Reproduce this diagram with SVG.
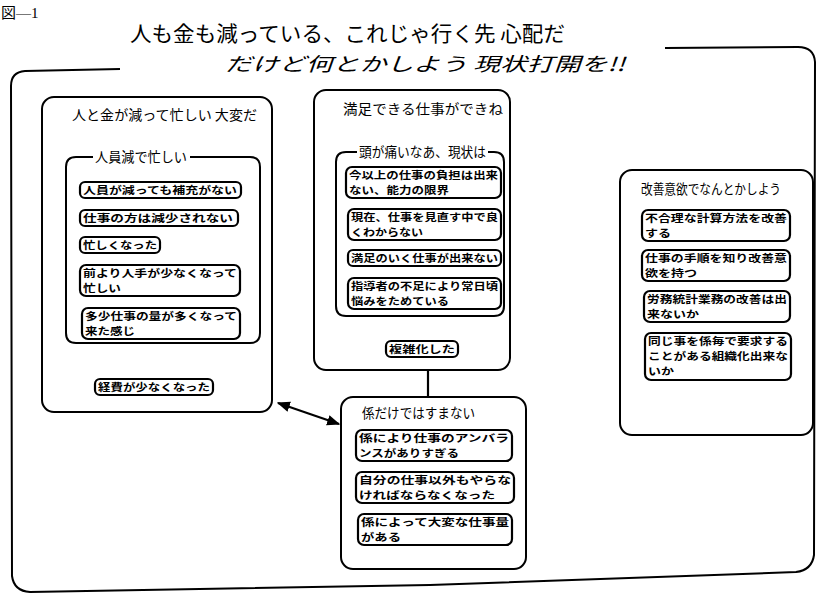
<svg xmlns="http://www.w3.org/2000/svg" width="827" height="604" viewBox="0 0 827 604">
<style>
.frame{fill:none;stroke:#000;stroke-width:2;stroke-linejoin:round}
.grp{fill:#fff;stroke:#000;stroke-width:2}
.card{fill:#fff;stroke:#000;stroke-width:2.2}
.ct{font-family:"Noto Sans CJK JP","Noto Sans CJK SC",sans-serif;font-size:10px;font-weight:bold;fill:#000}
.gt{font-family:"Noto Sans CJK JP","Noto Sans CJK SC",sans-serif;font-size:13.5px;fill:#000}
.tt{font-family:"Noto Sans CJK JP","Noto Sans CJK SC",sans-serif;fill:#000}
.conn{stroke:#000;stroke-width:2.2;fill:none}
</style>
<defs>
<marker id="ah" viewBox="0 0 10 10" refX="9" refY="5" markerWidth="6" markerHeight="6" orient="auto-start-reverse">
<path d="M0,1 L10,5 L0,9 z" fill="#000"/>
</marker>
</defs>
<rect width="827" height="604" fill="#fff"/>
<g id="header">
<text x="1" y="18" class="tt" style="font-family:'Liberation Serif','Noto Sans CJK JP',serif;font-size:15px">図—1</text>
<text x="130" y="41" class="tt" font-size="21" textLength="435" lengthAdjust="spacingAndGlyphs">人も金も減っている、これじゃ行く先 心配だ</text>
<text x="225" y="71" class="tt" font-size="19" font-style="italic" textLength="400" lengthAdjust="spacingAndGlyphs">だけど何とかしよう 現状打開を!!</text>
</g>
<g id="outer-frame">
<path class="frame" d="M120,69 L25,71 Q11,72 11,86 L12,576 Q14,591 30,592 L430,585 L796,572 Q812,570 814,555 L815,62 Q814,47 798,47 L665,48"/>
</g>
<g id="group1">
<rect class="grp" x="42" y="97" width="230" height="315" rx="12"/>
<text class="gt" x="72" y="120" textLength="185" lengthAdjust="spacingAndGlyphs">人と金が減って忙しい 大変だ</text>
</g>
<g id="subgroup1">
<path class="frame" d="M93,157 L76,157 Q66,157 66,167 L66,333 Q66,343 76,343 L250,343 Q260,343 260,333 L260,167 Q260,157 250,157 L190,157"/>
<text class="gt" x="95" y="162" font-size="13" textLength="92" lengthAdjust="spacingAndGlyphs">人員減で忙しい</text>
</g>
<g id="card-1-1"><rect class="card" x="80" y="182" width="161" height="16" rx="5"/><text class="ct" x="83" y="194" textLength="154" lengthAdjust="spacingAndGlyphs">人員が減っても補充がない</text></g>
<g id="card-1-2"><rect class="card" x="80" y="210" width="158" height="16" rx="5"/><text class="ct" x="83" y="222" textLength="150" lengthAdjust="spacingAndGlyphs">仕事の方は減少されない</text></g>
<g id="card-1-3"><rect class="card" x="80" y="237" width="80" height="16" rx="5"/><text class="ct" x="83" y="249" textLength="74" lengthAdjust="spacingAndGlyphs">忙しくなった</text></g>
<g id="card-1-4"><rect class="card" x="80" y="265" width="160" height="31" rx="6"/><text class="ct" x="83" y="277" textLength="154" lengthAdjust="spacingAndGlyphs">前より人手が少なくなって</text><text class="ct" x="83" y="292" textLength="38" lengthAdjust="spacingAndGlyphs">忙しい</text></g>
<g id="card-1-5"><rect class="card" x="82" y="308" width="158" height="31" rx="6"/><text class="ct" x="85" y="320" textLength="152" lengthAdjust="spacingAndGlyphs">多少仕事の量が多くなって</text><text class="ct" x="85" y="335" textLength="50" lengthAdjust="spacingAndGlyphs">来た感じ</text></g>
<g id="card-1-6"><rect class="card" x="95" y="379" width="118" height="16" rx="5"/><text class="ct" x="98" y="391" textLength="112" lengthAdjust="spacingAndGlyphs">経費が少なくなった</text></g>

<g id="group2">
<rect class="grp" x="314" y="90" width="196" height="280" rx="12"/>
<text class="gt" x="343" y="114" font-size="14" textLength="160" lengthAdjust="spacingAndGlyphs">満足できる仕事ができね</text>
</g>
<g id="subgroup2">
<path class="frame" d="M357,152 L346,152 Q336,152 336,162 L336,306 Q336,316 346,316 L494,316 Q504,316 504,306 L504,162 Q504,152 494,152 L488,152"/>
<text class="gt" x="359" y="157" font-size="13" textLength="127" lengthAdjust="spacingAndGlyphs">頭が痛いなあ、現状は</text>
</g>
<g id="card-2-1"><rect class="card" x="346" y="167" width="155" height="31" rx="6"/><text class="ct" x="349" y="179" textLength="149" lengthAdjust="spacingAndGlyphs">今以上の仕事の負担は出来</text><text class="ct" x="349" y="194" textLength="100" lengthAdjust="spacingAndGlyphs">ない、能力の限界</text></g>
<g id="card-2-2"><rect class="card" x="348" y="209" width="153" height="31" rx="6"/><text class="ct" x="351" y="221" textLength="147" lengthAdjust="spacingAndGlyphs">現在、仕事を見直す中で良</text><text class="ct" x="351" y="236" textLength="72" lengthAdjust="spacingAndGlyphs">くわからない</text></g>
<g id="card-2-3"><rect class="card" x="348" y="250" width="153" height="16" rx="5"/><text class="ct" x="351" y="262" textLength="147" lengthAdjust="spacingAndGlyphs">満足のいく仕事が出来ない</text></g>
<g id="card-2-4"><rect class="card" x="348" y="278" width="153" height="31" rx="6"/><text class="ct" x="351" y="290" textLength="147" lengthAdjust="spacingAndGlyphs">指導者の不足により常日頃</text><text class="ct" x="351" y="305" textLength="98" lengthAdjust="spacingAndGlyphs">悩みをためている</text></g>
<g id="card-2-5"><rect class="card" x="386" y="341" width="72" height="16" rx="5"/><text class="ct" x="389" y="353" textLength="66" lengthAdjust="spacingAndGlyphs">複雑化した</text></g>

<g id="group3">
<rect class="grp" x="341" y="397" width="185" height="172" rx="12"/>
<text class="gt" x="362" y="418" font-size="14" textLength="113" lengthAdjust="spacingAndGlyphs">係だけではすまない</text>
</g>
<g id="card-3-1"><rect class="card" x="356" y="430" width="156" height="31" rx="6"/><text class="ct" x="359" y="442" textLength="150" lengthAdjust="spacingAndGlyphs">係により仕事のアンバラ</text><text class="ct" x="359" y="457" textLength="100" lengthAdjust="spacingAndGlyphs">ンスがありすぎる</text></g>
<g id="card-3-2"><rect class="card" x="356" y="472" width="158" height="31" rx="6"/><text class="ct" x="359" y="484" textLength="152" lengthAdjust="spacingAndGlyphs">自分の仕事以外もやらな</text><text class="ct" x="359" y="499" textLength="136" lengthAdjust="spacingAndGlyphs">ければならなくなった</text></g>
<g id="card-3-3"><rect class="card" x="358" y="514" width="154" height="31" rx="6"/><text class="ct" x="361" y="526" textLength="148" lengthAdjust="spacingAndGlyphs">係によって大変な仕事量</text><text class="ct" x="361" y="541" textLength="40" lengthAdjust="spacingAndGlyphs">がある</text></g>

<g id="group4">
<rect class="grp" x="620" y="170" width="193" height="265" rx="12"/>
<text class="gt" x="641" y="194" font-size="13" textLength="140" lengthAdjust="spacingAndGlyphs">改善意欲でなんとかしよう</text>
</g>
<g id="card-4-1"><rect class="card" x="642" y="210" width="148" height="31" rx="6"/><text class="ct" x="645" y="222" textLength="142" lengthAdjust="spacingAndGlyphs">不合理な計算方法を改善</text><text class="ct" x="645" y="237" textLength="26" lengthAdjust="spacingAndGlyphs">する</text></g>
<g id="card-4-2"><rect class="card" x="642" y="250" width="148" height="31" rx="6"/><text class="ct" x="645" y="262" textLength="142" lengthAdjust="spacingAndGlyphs">仕事の手順を知り改善意</text><text class="ct" x="645" y="277" textLength="52" lengthAdjust="spacingAndGlyphs">欲を持つ</text></g>
<g id="card-4-3"><rect class="card" x="644" y="291" width="146" height="31" rx="6"/><text class="ct" x="647" y="303" textLength="140" lengthAdjust="spacingAndGlyphs">労務統計業務の改善は出</text><text class="ct" x="647" y="318" textLength="52" lengthAdjust="spacingAndGlyphs">来ないか</text></g>
<g id="card-4-4"><rect class="card" x="645" y="333" width="146" height="47" rx="6"/><text class="ct" x="648" y="345" textLength="140" lengthAdjust="spacingAndGlyphs">同じ事を係毎で要求する</text><text class="ct" x="648" y="360" textLength="140" lengthAdjust="spacingAndGlyphs">ことがある組織化出来な</text><text class="ct" x="648" y="375" textLength="26" lengthAdjust="spacingAndGlyphs">いか</text></g>

<g id="connectors">
<line class="conn" x1="428" y1="370" x2="428" y2="397"/>
<line class="conn" x1="278" y1="403" x2="339" y2="424" marker-start="url(#ah)" marker-end="url(#ah)"/>
</g>
</svg>
